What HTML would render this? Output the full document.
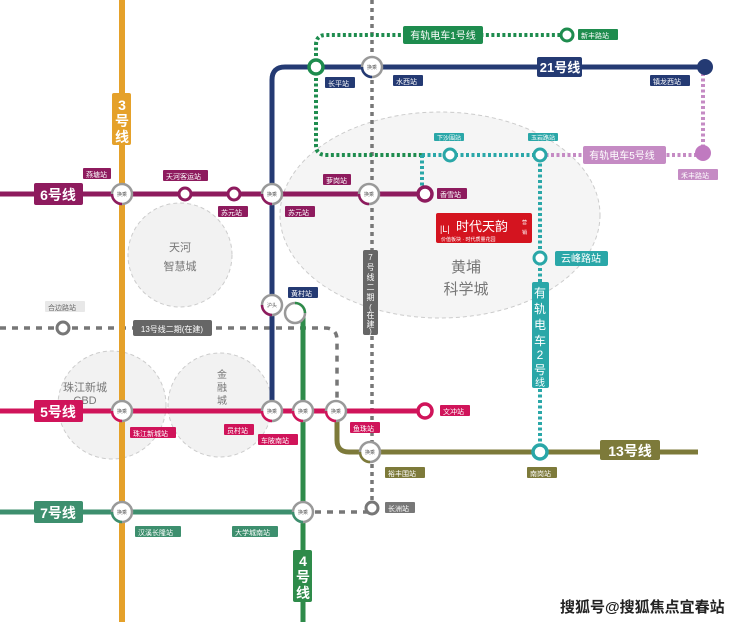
<!DOCTYPE html>
<html><head><meta charset="utf-8"><style>
html,body{margin:0;padding:0;background:#fff;}
svg{display:block;font-family:"Liberation Sans","Noto Sans CJK SC",sans-serif;}
.lbl{font-size:7px;fill:#fff;}
.big{font-size:14px;fill:#fff;font-weight:bold;}
.ic{font-size:5px;fill:#555;text-anchor:middle;}
</style></head><body>
<svg width="740" height="622" viewBox="0 0 740 622" xmlns="http://www.w3.org/2000/svg">
<ellipse cx="440" cy="215" rx="160" ry="103" fill="#f5f5f5" stroke="#ccc" stroke-dasharray="4 3"/>
<circle cx="180" cy="255" r="52" fill="#f2f2f2" stroke="#ccc" stroke-dasharray="4 3"/>
<circle cx="112" cy="405" r="54" fill="#f2f2f2" stroke="#ccc" stroke-dasharray="4 3"/>
<circle cx="220" cy="405" r="52" fill="#f2f2f2" stroke="#ccc" stroke-dasharray="4 3"/>
<text x="180" y="251" font-size="11" fill="#777" text-anchor="middle">天河</text>
<text x="180" y="270" font-size="11" fill="#777" text-anchor="middle">智慧城</text>
<text x="85" y="391" font-size="11" fill="#777" text-anchor="middle">珠江新城</text>
<text x="85" y="404" font-size="11" fill="#777" text-anchor="middle">CBD</text>
<text x="222" y="378" font-size="10" fill="#777" text-anchor="middle">金</text>
<text x="222" y="391" font-size="10" fill="#777" text-anchor="middle">融</text>
<text x="222" y="404" font-size="10" fill="#777" text-anchor="middle">城</text>
<text x="466" y="272" font-size="15" fill="#777" text-anchor="middle">黄埔</text>
<text x="466" y="294" font-size="15" fill="#777" text-anchor="middle">科学城</text>

<path d="M372 0 V508" stroke="#777" stroke-width="3.5" stroke-dasharray="4 4" fill="none"/>
<path d="M0 328 H325 Q337 328 337 340 V400" stroke="#777" stroke-width="3.5" stroke-dasharray="6 6" fill="none"/>
<path d="M303 512 H372" stroke="#777" stroke-width="3.5" stroke-dasharray="6 6" fill="none"/>
<circle cx="63" cy="328" r="6" fill="#fff" stroke="#777" stroke-width="3"/>
<circle cx="372" cy="508" r="6" fill="#fff" stroke="#777" stroke-width="3"/>

<path d="M316 67 V45 Q316 35 326 35 H567" stroke="#1e8c4e" stroke-width="4" stroke-dasharray="3 2.5" fill="none"/>
<path d="M316 67 V145 Q316 155 326 155 H422" stroke="#1e8c4e" stroke-width="4" stroke-dasharray="3 2.5" fill="none"/>
<circle cx="567" cy="35" r="6" fill="#fff" stroke="#1e8c4e" stroke-width="3"/>
<path d="M422 155 V194 M422 155 H540 V452" stroke="#2aa7a8" stroke-width="4" stroke-dasharray="3 2.5" fill="none"/>
<path d="M540 155 H703 V67" stroke="#c58bc4" stroke-width="4" stroke-dasharray="3 2.5" fill="none"/>
<circle cx="703" cy="153" r="8" fill="#c07ac0"/>

<path d="M272 411 V80 Q272 67 285 67 H705" stroke="#243a73" stroke-width="5" fill="none"/>
<circle cx="705" cy="67" r="8" fill="#243a73"/>
<path d="M122 0 V622" stroke="#e5a12a" stroke-width="6"/>
<path d="M303 312 V622" stroke="#2e8b4a" stroke-width="5"/>
<path d="M0 194 H425" stroke="#8e1b5e" stroke-width="5"/>
<path d="M0 411 H425" stroke="#d0145a" stroke-width="5"/>
<path d="M337 411 V440 Q337 452 349 452 H698" stroke="#7d7a3a" stroke-width="5" fill="none"/>
<path d="M0 512 H303" stroke="#3d8f6e" stroke-width="5"/>

<circle cx="185" cy="194" r="6" fill="#fff" stroke="#8e1b5e" stroke-width="3"/>
<circle cx="234" cy="194" r="6" fill="#fff" stroke="#8e1b5e" stroke-width="3"/>
<circle cx="425" cy="194" r="7" fill="#fff" stroke="#8e1b5e" stroke-width="3.5"/>
<circle cx="425" cy="411" r="7" fill="#fff" stroke="#d0145a" stroke-width="3.5"/>
<circle cx="316" cy="67" r="7" fill="#fff" stroke="#1e8c4e" stroke-width="3.5"/>
<circle cx="450" cy="155" r="6" fill="#fff" stroke="#2aa7a8" stroke-width="3"/>
<circle cx="540" cy="155" r="6" fill="#fff" stroke="#2aa7a8" stroke-width="3"/>
<circle cx="540" cy="258" r="6" fill="#fff" stroke="#2aa7a8" stroke-width="3"/>
<circle cx="540" cy="452" r="7" fill="#fff" stroke="#2aa7a8" stroke-width="3.5"/>

<g fill="#fff" stroke-width="2.5">
<circle cx="122" cy="194" r="10" stroke="#999"/><path d="M112 194 A10 10 0 0 0 122 204" stroke="#8e1b5e" fill="none"/>
<circle cx="272" cy="194" r="10" stroke="#999"/><path d="M262 194 A10 10 0 0 0 272 204" stroke="#8e1b5e" fill="none"/>
<circle cx="369" cy="194" r="10" stroke="#999"/><path d="M359 194 A10 10 0 0 0 369 204" stroke="#8e1b5e" fill="none"/>
<circle cx="372" cy="67" r="10" stroke="#999"/><path d="M362 67 A10 10 0 0 0 372 77" stroke="#243a73" fill="none"/>
<circle cx="272" cy="305" r="10" stroke="#999"/><path d="M262 305 A10 10 0 0 0 272 315" stroke="#8e1b5e" fill="none"/>
<circle cx="295" cy="313" r="10" stroke="#999"/><path d="M295 303 A10 10 0 0 1 305 313" stroke="#2e8b4a" fill="none"/>
<circle cx="122" cy="411" r="10" stroke="#999"/><path d="M112 411 A10 10 0 0 0 122 421" stroke="#d0145a" fill="none"/>
<circle cx="272" cy="411" r="10" stroke="#999"/><path d="M262 411 A10 10 0 0 0 272 421" stroke="#d0145a" fill="none"/>
<circle cx="303" cy="411" r="10" stroke="#999"/><path d="M293 411 A10 10 0 0 0 303 421" stroke="#d0145a" fill="none"/>
<circle cx="336" cy="411" r="10" stroke="#999"/><path d="M326 411 A10 10 0 0 0 336 421" stroke="#d0145a" fill="none"/>
<circle cx="370" cy="452" r="10" stroke="#999"/><path d="M360 452 A10 10 0 0 0 370 462" stroke="#7d7a3a" fill="none"/>
<circle cx="122" cy="512" r="10" stroke="#999"/><path d="M112 512 A10 10 0 0 0 122 522" stroke="#3d8f6e" fill="none"/>
<circle cx="303" cy="512" r="10" stroke="#999"/><path d="M293 512 A10 10 0 0 0 303 522" stroke="#3d8f6e" fill="none"/>
</g>
<g class="ic">
<text x="122" y="196">换乘</text><text x="272" y="196">换乘</text><text x="369" y="196">换乘</text><text x="372" y="69">换乘</text>
<text x="272" y="307">沪头</text><text x="122" y="413">换乘</text><text x="272" y="413">换乘</text><text x="303" y="413">换乘</text>
<text x="336" y="413">换乘</text><text x="370" y="454">换乘</text><text x="122" y="514">换乘</text><text x="303" y="514">换乘</text>
</g>

<rect x="34" y="183" width="49" height="22" rx="2" fill="#8e1b5e"/><text x="58" y="200" class="big" text-anchor="middle">6号线</text>
<rect x="34" y="400" width="49" height="22" rx="2" fill="#d0145a"/><text x="58" y="417" class="big" text-anchor="middle">5号线</text>
<rect x="34" y="501" width="49" height="22" rx="2" fill="#3d8f6e"/><text x="58" y="518" class="big" text-anchor="middle">7号线</text>
<rect x="600" y="440" width="60" height="20" rx="2" fill="#7d7a3a"/><text x="630" y="456" class="big" text-anchor="middle">13号线</text>
<rect x="537" y="57" width="45" height="20" rx="2" fill="#243a73"/><text x="560" y="72" class="big" text-anchor="middle" style="font-size:13px">21号线</text>
<rect x="112" y="93" width="19" height="52" rx="2" fill="#e5a12a"/>
<text x="122" y="110" class="big" text-anchor="middle">3</text><text x="122" y="126" class="big" text-anchor="middle">号</text><text x="122" y="142" class="big" text-anchor="middle">线</text>
<rect x="293" y="550" width="19" height="52" rx="2" fill="#2e8b4a"/>
<text x="303" y="566" class="big" text-anchor="middle">4</text><text x="303" y="582" class="big" text-anchor="middle">号</text><text x="303" y="598" class="big" text-anchor="middle">线</text>
<rect x="403" y="26" width="80" height="18" rx="2" fill="#1e8c4e"/><text x="443" y="39" font-size="10" fill="#fff" text-anchor="middle">有轨电车1号线</text>
<rect x="583" y="146" width="83" height="18" rx="2" fill="#c58bc4"/><text x="622" y="159" font-size="10" fill="#fff" text-anchor="middle">有轨电车5号线</text>
<rect x="133" y="320" width="79" height="16" rx="2" fill="#666"/><text x="172" y="332" font-size="8" fill="#fff" text-anchor="middle">13号线二期(在建)</text>
<rect x="363" y="250" width="15" height="85" rx="2" fill="#666"/>
<g font-size="8" fill="#fff" text-anchor="middle"><text x="370.5" y="260">7</text><text x="370.5" y="270">号</text><text x="370.5" y="280">线</text><text x="370.5" y="290">二</text><text x="370.5" y="300">期</text><text x="370.5" y="310">(</text><text x="370.5" y="318">在</text><text x="370.5" y="327">建</text><text x="370.5" y="334">)</text></g>
<rect x="532" y="282" width="17" height="106" rx="2" fill="#2aa7a8"/>
<g font-size="12" fill="#fff" text-anchor="middle"><text x="540" y="297">有</text><text x="540" y="313">轨</text><text x="540" y="329">电</text><text x="540" y="345">车</text><text x="540" y="359">2</text><text x="540" y="374">号</text><text x="540" y="386" font-size="10">线</text></g>
<rect x="555" y="251" width="53" height="15" rx="2" fill="#2aa7a8"/><text x="581" y="262" font-size="10" fill="#fff" text-anchor="middle">云峰路站</text>

<g class="lbl">
<rect x="83" y="168" width="28" height="11" rx="1" fill="#8e1b5e"/><text x="86" y="177">燕塘站</text>
<rect x="163" y="170" width="45" height="11" rx="1" fill="#8e1b5e"/><text x="166" y="179">天河客运站</text>
<rect x="218" y="206" width="30" height="11" rx="1" fill="#8e1b5e"/><text x="221" y="215">苏元站</text>
<rect x="285" y="206" width="30" height="11" rx="1" fill="#8e1b5e"/><text x="288" y="215">苏元站</text>
<rect x="323" y="174" width="28" height="11" rx="1" fill="#8e1b5e"/><text x="326" y="183">萝岗站</text>
<rect x="437" y="188" width="30" height="11" rx="1" fill="#8e1b5e"/><text x="440" y="197">香雪站</text>
<rect x="325" y="77" width="30" height="11" rx="1" fill="#243a73"/><text x="328" y="86">长平站</text>
<rect x="393" y="75" width="30" height="11" rx="1" fill="#243a73"/><text x="396" y="84">水西站</text>
<rect x="650" y="75" width="40" height="11" rx="1" fill="#243a73"/><text x="653" y="84">镇龙西站</text>
<rect x="578" y="29" width="40" height="11" rx="1" fill="#1e8c4e"/><text x="581" y="38">新丰路站</text>
<rect x="434" y="133" width="30" height="8" rx="1" fill="#2aa7a8"/><text x="437" y="140" style="font-size:6px">下沙围站</text>
<rect x="528" y="133" width="30" height="8" rx="1" fill="#2aa7a8"/><text x="531" y="140" style="font-size:6px">玉岩路站</text>
<rect x="678" y="169" width="40" height="11" rx="1" fill="#c58bc4"/><text x="681" y="178">禾丰路站</text>
<rect x="288" y="287" width="30" height="11" rx="1" fill="#243a73"/><text x="291" y="296">黄村站</text>
<rect x="45" y="301" width="40" height="11" rx="1" fill="#e8e8e8"/><text x="48" y="310" style="fill:#666">合边路站</text>
<rect x="130" y="427" width="46" height="11" rx="1" fill="#d0145a"/><text x="133" y="436">珠江新城站</text>
<rect x="224" y="424" width="30" height="11" rx="1" fill="#d0145a"/><text x="227" y="433">员村站</text>
<rect x="258" y="434" width="40" height="11" rx="1" fill="#d0145a"/><text x="261" y="443">车陂南站</text>
<rect x="350" y="422" width="30" height="11" rx="1" fill="#d0145a"/><text x="353" y="431">鱼珠站</text>
<rect x="440" y="405" width="30" height="11" rx="1" fill="#d0145a"/><text x="443" y="414">文冲站</text>
<rect x="385" y="467" width="40" height="11" rx="1" fill="#7d7a3a"/><text x="388" y="476">裕丰围站</text>
<rect x="527" y="467" width="30" height="11" rx="1" fill="#7d7a3a"/><text x="530" y="476">南岗站</text>
<rect x="385" y="502" width="30" height="11" rx="1" fill="#777"/><text x="388" y="511">长洲站</text>
<rect x="135" y="526" width="46" height="11" rx="1" fill="#3d8f6e"/><text x="138" y="535">汉溪长隆站</text>
<rect x="232" y="526" width="46" height="11" rx="1" fill="#3d8f6e"/><text x="235" y="535">大学城南站</text>
</g>

<rect x="436" y="213" width="96" height="30" rx="2" fill="#d4141f"/>
<text x="440" y="232" font-size="9" fill="#fff">|L|</text>
<text x="456" y="231" font-size="13" fill="#fff">时代天韵</text>
<text x="441" y="241" font-size="5" fill="#fff">价值板块 · 时代质量花园</text>
<text x="522" y="224" font-size="5" fill="#fff">营</text><text x="522" y="234" font-size="5" fill="#fff">销</text>

<text x="560" y="612" font-size="15" font-weight="bold" fill="#222">搜狐号@搜狐焦点宜春站</text>
</svg>
</body></html>
